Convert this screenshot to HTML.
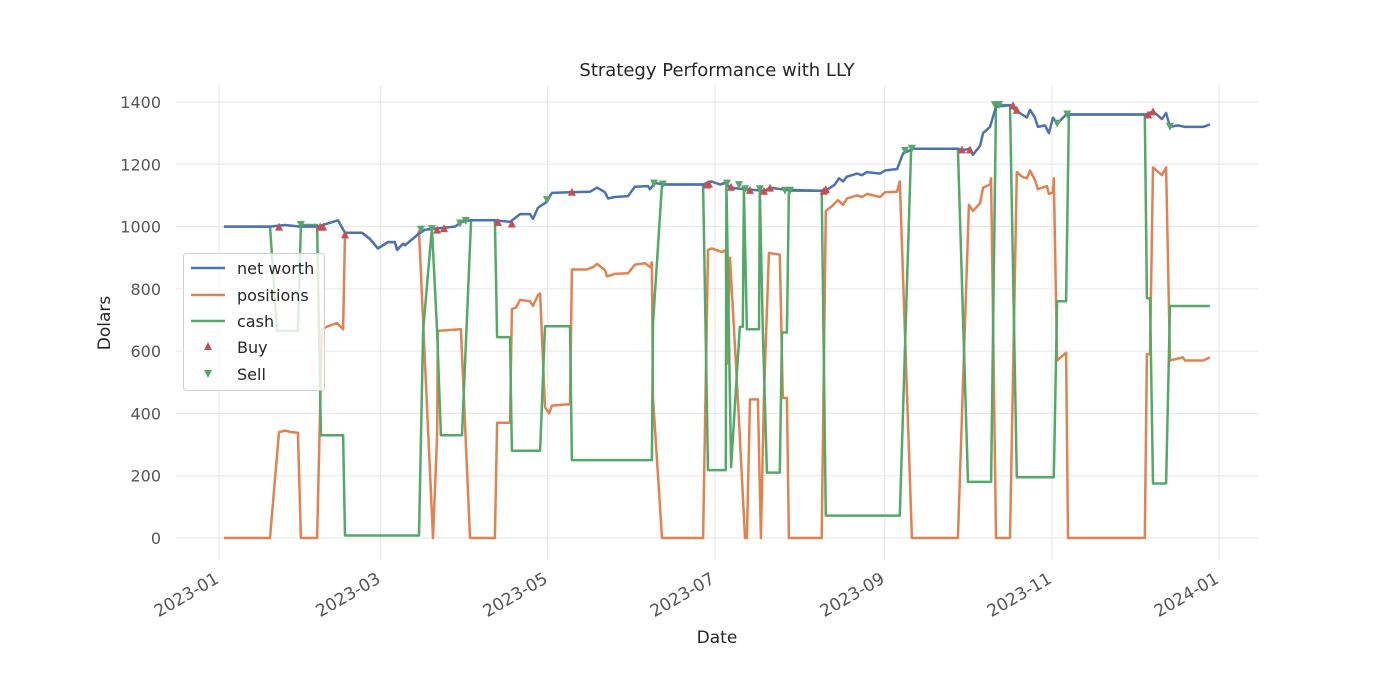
<!DOCTYPE html>
<html><head><meta charset="utf-8">
<style>
html,body{margin:0;padding:0;background:#fff;}
svg{display:block;font-family:"DejaVu Sans","Liberation Sans",sans-serif;}
</style></head>
<body>
<svg id="chart" width="1400" height="700" viewBox="0 0 1400 700" xmlns="http://www.w3.org/2000/svg">
<rect width="1400" height="700" fill="#fff"/>
<g id="grid"></g>
<g id="series"></g>
<g id="ticks"></g>
<text x="717" y="76" text-anchor="middle" font-size="18" fill="#262626">Strategy Performance with LLY</text>
<text x="717" y="643" text-anchor="middle" font-size="17" fill="#262626">Date</text>
<text x="110" y="323" text-anchor="middle" font-size="17" fill="#262626" transform="rotate(-90 110 323)">Dolars</text>
<g id="legend">
<rect x="183.5" y="253.5" width="141" height="137" rx="3" fill="#fff" fill-opacity="0.8" stroke="#d0d0d0"/>
<g><line x1="191" y1="268" x2="225" y2="268" stroke="#4c72b0" stroke-width="2.5"/><text x="237" y="274" font-size="16" fill="#262626">net worth</text></g>
<g><line x1="191" y1="295" x2="225" y2="295" stroke="#dd8452" stroke-width="2.5"/><text x="237" y="301" font-size="16" fill="#262626">positions</text></g>
<g><line x1="191" y1="321" x2="225" y2="321" stroke="#55a868" stroke-width="2.5"/><text x="237" y="327" font-size="16" fill="#262626">cash</text></g>
<g><path d="M208,342 L212,350 L204,350 Z" fill="#c44e52"/><text x="237" y="353" font-size="16" fill="#262626">Buy</text></g>
<g><path d="M204,370 L212,370 L208,378 Z" fill="#55a868"/><text x="237" y="380" font-size="16" fill="#262626">Sell</text></g>
</g>
</svg>
<script>
// data: day = days since 2023-01-01
const xTickDays = [0, 59, 120, 181, 243, 304, 365];
const xTickLabels = ["2023-01","2023-03","2023-05","2023-07","2023-09","2023-11","2024-01"];
const yTicks = [0,200,400,600,800,1000,1200,1400];

const netWorthDays = [1.8,18.6,24.1,29.6,36.1,43.4,46,52.2,55.1,58,61.7,64.2,65,67.2,67.9,72.6,75.2,80.7,86.1,88.7,91.6,100.7,106.2,109.9,113.5,114.6,116.4,119.7,121.5,128.1,135.4,138,140.9,142,144.5,149.3,151.8,156.6,157.3,159.1,162.8,176.7,179.6,182.9,184.7,186.5,192,199.3,201.1,206.6,219.4,222.3,224.8,226.3,227.8,229.2,232.9,234.7,236.5,241.3,243.1,247.5,249.7,252.2,252.9,269.7,271.2,274.1,275.2,277.8,278.9,281.4,283.6,288.7,290.5,293.1,294.9,296,297.8,298.9,301.5,302.9,304.4,305.9,309.2,338.4,340.9,344.2,345.7,347.1,350,352.6,359.2,361.7];
const netWorthValues = [1000,1000,1005,1000,1000,1020,980,980,960,930,950,950,925,945,940,975,990,995,1000,1015,1020,1020,1015,1040,1040,1025,1060,1080,1108,1110,1112,1125,1110,1090,1095,1098,1128,1130,1120,1140,1135,1135,1145,1135,1140,1125,1120,1115,1125,1118,1115,1120,1135,1155,1145,1160,1170,1165,1175,1170,1180,1185,1235,1245,1250,1250,1245,1250,1230,1260,1300,1320,1385,1390,1375,1360,1350,1375,1350,1320,1325,1300,1350,1330,1360,1360,1370,1345,1365,1320,1325,1320,1320,1328];

const positionDays = [1.8,18.6,21.9,24.1,26.3,28.8,29.9,35.8,37.6,39.8,43.1,45.3,46,52.2,55.1,58,61.7,64.2,65,67.2,67.9,72.6,73,78.1,79.6,79.9,88,88.3,91.6,100.7,101.5,106.2,106.9,108.4,109.9,113.5,114.6,116.4,117.2,119,120.5,121.5,128.1,128.8,134.3,136.5,138,140.9,141.6,144.5,149.3,151.8,155.5,157.3,158,158.4,161.7,176.7,178.5,179.9,183.6,185,185.4,186.5,189.4,192,192.7,193.8,196.7,197.8,198.9,200.7,204.7,205.8,207.3,208,220,221.5,223.7,225.9,227.8,229.2,232.9,234.7,236.5,241.3,243.1,247.5,248.5,252.9,269.7,273.7,275.2,277.8,278.9,281.4,281.8,283.6,288.7,291.2,293.1,294.9,296,297.8,298.9,302.2,302.9,304.4,304.7,305.9,309.2,309.9,337.9,338.7,339.8,340.9,344.2,345.7,347.1,351.8,352.6,359.2,361.7];
const positionValues = [0,0,340,345,340,338,0,0,670,680,690,670,980,980,960,930,950,950,925,945,940,975,985,0,330,665,670,670,0,0,370,370,735,740,765,760,745,780,785,420,400,425,430,862,862,870,880,860,840,848,850,878,882,870,885,450,0,0,925,930,918,925,560,900,445,0,0,445,445,0,450,915,910,450,450,0,0,1050,1065,1085,1070,1090,1100,1095,1105,1095,1110,1112,1145,0,0,1070,1050,1075,1125,1135,1155,0,0,1175,1160,1155,1180,1150,1120,1130,1105,1110,1155,570,595,0,0,590,590,1190,1165,1190,570,580,570,570,580];

const cashDays = [1.8,18.6,21.2,28.8,29.9,35.8,37.2,45.3,46,73,74.5,77.7,79.6,81,88.7,92,100.7,101.5,106.2,106.9,117.2,119,128.1,128.8,158,158.4,161.7,176.7,178.5,185,185.2,186.9,190.1,191.2,191.6,192.7,197.1,197.4,198.5,200,204.7,205.5,207.3,208,220,221.5,248.5,252.6,252.9,269.7,273.4,281.8,283.6,288.7,291.2,304.7,305.9,309.2,310.2,337.9,338.7,339.8,340.9,345.7,347.1,361.7];
const cashValues = [1000,1000,665,665,1005,1005,330,330,8,8,665,995,665,330,330,1020,1020,645,645,280,280,680,680,250,250,690,1135,1135,218,218,1140,228,678,678,1120,670,670,1120,668,210,210,660,660,1115,1115,72,72,1245,1250,1250,180,180,1390,1390,195,195,760,760,1360,1360,770,770,175,175,745,745];

const buyDays = [21.9,36.9,38,46,79.6,82.1,101.8,106.9,128.8,178.1,178.8,186.9,193.8,198.9,201.1,220.8,221.5,271.2,274.1,289.8,291.2,339.1,340.9];
const buyValues = [1000,1000,1000,975,990,995,1015,1010,1112,1135,1138,1128,1118,1115,1125,1115,1120,1248,1248,1390,1375,1360,1370];
const sellDays = [29.9,73.7,77.7,88,90.1,119.7,158.8,162,185.4,189.8,192,197.4,206.6,208.4,250.4,252.9,283.2,284.7,305.9,309.6,347.1];
const sellValues = [1005,990,992,1010,1018,1085,1138,1135,1138,1133,1120,1120,1115,1115,1243,1250,1390,1390,1330,1360,1320];

const NS = "http://www.w3.org/2000/svg";
const X0 = 219, XPD = 1000/365;
const Y0 = 538, YPV = 436/1400;
function xScale(d){ return X0 + d*XPD; }
function yScale(v){ return Y0 - v*YPV; }
function mk(tag, attrs, parent){ const e=document.createElementNS(NS,tag); for(const k in attrs) e.setAttribute(k,attrs[k]); parent.appendChild(e); return e; }

const grid = document.getElementById('grid');
const ticks = document.getElementById('ticks');
const series = document.getElementById('series');

xTickDays.forEach((d,i)=>{
  const x = xScale(d);
  const l = mk('line',{x1:x,x2:x,y1:85,y2:560,stroke:'#e6e6e6','stroke-width':1},grid);
  
  
  const t = mk('text',{x:x+1,y:582,'text-anchor':'end','font-size':17,fill:'#555',transform:`rotate(-30 ${x+1} 582)`},ticks);
  t.textContent = xTickLabels[i];
  
  
});
yTicks.forEach(v=>{
  const y = yScale(v);
  const l = mk('line',{x1:176,x2:1258,y1:y,y2:y,stroke:'#e6e6e6','stroke-width':1},grid);
  
  
  const t = mk('text',{x:161,y:y+6,'text-anchor':'end','font-size':16,fill:'#555'},ticks);
  t.textContent = String(v);
  
  
});

function drawLine(days, vals, color, name){
  const pts = days.map((d,i)=>xScale(d).toFixed(1)+','+yScale(vals[i]).toFixed(1)).join(' ');
  const p = mk('polyline',{points:pts,fill:'none',stroke:color,'stroke-width':2.5,'stroke-linejoin':'round'},series);
  
  
}
drawLine(positionDays, positionValues, '#dd8452', 'positions-line');
drawLine(cashDays, cashValues, '#55a868', 'cash-line');
drawLine(netWorthDays, netWorthValues, '#4c72b0', 'net-worth-line');

buyDays.forEach((d,i)=>{
  const x=xScale(d), y=yScale(buyValues[i]);
  const m = mk('path',{d:`M${x},${y-4} L${x+4},${y+4} L${x-4},${y+4} Z`,fill:'#c44e52'},series);
  
  
});
sellDays.forEach((d,i)=>{
  const x=xScale(d), y=yScale(sellValues[i]);
  const m = mk('path',{d:`M${x-4},${y-4} L${x+4},${y-4} L${x},${y+4} Z`,fill:'#55a868'},series);
  
  
});
</script>
</body></html>
